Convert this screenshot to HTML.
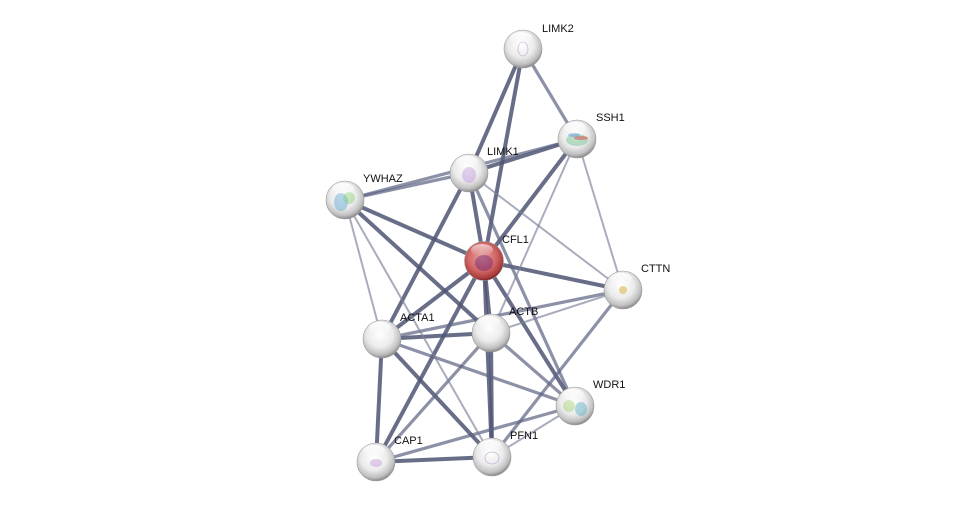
<!DOCTYPE html>
<html><head><meta charset="utf-8"><style>
html,body{margin:0;padding:0;background:#fff;}
svg{display:block;}
text{font-family:"Liberation Sans",sans-serif;font-size:11px;fill:#111;}
</style></head><body>
<svg width="975" height="507" viewBox="0 0 975 507" xmlns="http://www.w3.org/2000/svg">
<defs>
<radialGradient id="w" cx="45%" cy="38%" r="62%">
<stop offset="0" stop-color="#ffffff"/><stop offset="0.55" stop-color="#ebebeb"/><stop offset="0.85" stop-color="#c0c0c0"/><stop offset="1" stop-color="#8a8a8a"/>
</radialGradient>
<radialGradient id="r" cx="45%" cy="40%" r="62%">
<stop offset="0" stop-color="#e9a0a0"/><stop offset="0.6" stop-color="#d06464"/><stop offset="0.88" stop-color="#a83c3c"/><stop offset="1" stop-color="#6a1c1c"/>
</radialGradient>
<linearGradient id="hl" x1="0" y1="0" x2="0" y2="1">
<stop offset="0" stop-color="#fff" stop-opacity="0.9"/><stop offset="1" stop-color="#fff" stop-opacity="0"/>
</linearGradient>
</defs>
<g stroke-linecap="round">
<g stroke="#4f5573" stroke-width="4" stroke-opacity="0.85">
<line x1="523" y1="49" x2="469" y2="173"/>
<line x1="523" y1="49" x2="484" y2="261"/>
<line x1="577" y1="139" x2="469" y2="173"/>
<line x1="577" y1="139" x2="484" y2="261"/>
<line x1="469" y1="173" x2="484" y2="261"/>
<line x1="469" y1="173" x2="382" y2="339"/>
<line x1="345" y1="200" x2="484" y2="261"/>
<line x1="345" y1="200" x2="491" y2="333"/>
<line x1="484" y1="261" x2="623" y2="290"/>
<line x1="484" y1="261" x2="382" y2="339"/>
<line x1="484" y1="261" x2="491" y2="333"/>
<line x1="484" y1="261" x2="376" y2="462"/>
<line x1="484" y1="261" x2="492" y2="457"/>
<line x1="484" y1="261" x2="575" y2="406"/>
<line x1="382" y1="339" x2="491" y2="333"/>
<line x1="382" y1="339" x2="492" y2="457"/>
<line x1="382" y1="339" x2="376" y2="462"/>
<line x1="491" y1="333" x2="492" y2="457"/>
<line x1="376" y1="462" x2="492" y2="457"/>
</g>
<g stroke="#5b6282" stroke-width="3.2" stroke-opacity="0.7">
<line x1="523" y1="49" x2="577" y2="139"/>
<line x1="345" y1="200" x2="577" y2="139"/>
<line x1="345" y1="200" x2="469" y2="173"/>
<line x1="469" y1="173" x2="575" y2="406"/>
<line x1="623" y1="290" x2="382" y2="339"/>
<line x1="623" y1="290" x2="492" y2="457"/>
<line x1="382" y1="339" x2="575" y2="406"/>
<line x1="491" y1="333" x2="376" y2="462"/>
<line x1="491" y1="333" x2="575" y2="406"/>
<line x1="575" y1="406" x2="376" y2="462"/>
</g>
<g stroke="#7a809a" stroke-width="2" stroke-opacity="0.65">
<line x1="577" y1="139" x2="491" y2="333"/>
<line x1="577" y1="139" x2="623" y2="290"/>
<line x1="469" y1="173" x2="623" y2="290"/>
<line x1="345" y1="200" x2="382" y2="339"/>
<line x1="345" y1="200" x2="492" y2="457"/>
<line x1="623" y1="290" x2="491" y2="333"/>
<line x1="575" y1="406" x2="492" y2="457"/>
</g>
</g>
<g stroke="#9a9a9a" stroke-width="0.6">
<g transform="translate(523,49)"><circle r="19" fill="url(#w)"/><ellipse cx="0" cy="0" rx="5" ry="7" fill="none" stroke="#b07cd0" stroke-width="0.8" opacity="0.5"/><ellipse cx="-2" cy="-11" rx="11" ry="6" fill="url(#hl)" stroke="none"/></g>
<g transform="translate(577,139)"><circle r="19" fill="url(#w)"/><ellipse cx="0" cy="1" rx="11" ry="6" fill="#6bbf8a" opacity="0.45" stroke="none"/><ellipse cx="4" cy="-1" rx="7" ry="2" fill="#e05050" opacity="0.55" stroke="none"/><ellipse cx="-3" cy="-4" rx="6" ry="2" fill="#5a8ee0" opacity="0.45" stroke="none"/><ellipse cx="-2" cy="-11" rx="11" ry="6" fill="url(#hl)" stroke="none"/></g>
<g transform="translate(469,173)"><circle r="19" fill="url(#w)"/><ellipse cx="0" cy="2" rx="7" ry="8" fill="#b07cd0" opacity="0.35" stroke="none"/><ellipse cx="-2" cy="-11" rx="11" ry="6" fill="url(#hl)" stroke="none"/></g>
<g transform="translate(345,200)"><circle r="19" fill="url(#w)"/><ellipse cx="-4" cy="2" rx="7" ry="9" fill="#4a9ad0" opacity="0.4" stroke="none"/><ellipse cx="4" cy="-2" rx="6" ry="6" fill="#7acc6a" opacity="0.4" stroke="none"/><ellipse cx="-2" cy="-11" rx="11" ry="6" fill="url(#hl)" stroke="none"/></g>
<g transform="translate(484,261)"><circle r="19.5" fill="url(#r)"/><ellipse cx="0" cy="2" rx="9" ry="8" fill="#6a2070" opacity="0.45" stroke="none"/><ellipse cx="-2" cy="-11" rx="11" ry="6" fill="url(#hl)" opacity="0.7" stroke="none"/></g>
<g transform="translate(623,290)"><circle r="19" fill="url(#w)"/><ellipse cx="0" cy="0" rx="4" ry="4" fill="#d8b040" opacity="0.55" stroke="none"/><ellipse cx="-2" cy="-11" rx="11" ry="6" fill="url(#hl)" stroke="none"/></g>
<g transform="translate(382,339)"><circle r="19" fill="url(#w)"/><ellipse cx="-2" cy="-11" rx="11" ry="6" fill="url(#hl)" stroke="none"/></g>
<g transform="translate(491,333)"><circle r="19" fill="url(#w)"/><ellipse cx="-2" cy="-11" rx="11" ry="6" fill="url(#hl)" stroke="none"/></g>
<g transform="translate(575,406)"><circle r="19" fill="url(#w)"/><ellipse cx="-6" cy="0" rx="6" ry="6" fill="#9acc60" opacity="0.4" stroke="none"/><ellipse cx="6" cy="3" rx="6" ry="7" fill="#40a8c0" opacity="0.4" stroke="none"/><ellipse cx="-2" cy="-11" rx="11" ry="6" fill="url(#hl)" stroke="none"/></g>
<g transform="translate(492,457)"><circle r="19" fill="url(#w)"/><ellipse cx="0" cy="1" rx="7" ry="6" fill="none" stroke="#a070c0" stroke-width="0.8" opacity="0.5"/><ellipse cx="-2" cy="-11" rx="11" ry="6" fill="url(#hl)" stroke="none"/></g>
<g transform="translate(376,462)"><circle r="19" fill="url(#w)"/><ellipse cx="0" cy="1" rx="6" ry="4" fill="#b07cd0" opacity="0.35" stroke="none"/><ellipse cx="-2" cy="-11" rx="11" ry="6" fill="url(#hl)" stroke="none"/></g>
</g>
<text x="542" y="32">LIMK2</text>
<text x="596" y="121">SSH1</text>
<text x="487" y="155">LIMK1</text>
<text x="363" y="182">YWHAZ</text>
<text x="502" y="243">CFL1</text>
<text x="641" y="272">CTTN</text>
<text x="400" y="321">ACTA1</text>
<text x="509" y="315">ACTB</text>
<text x="593" y="388">WDR1</text>
<text x="510" y="439">PFN1</text>
<text x="394" y="444">CAP1</text>
</svg>
</body></html>
